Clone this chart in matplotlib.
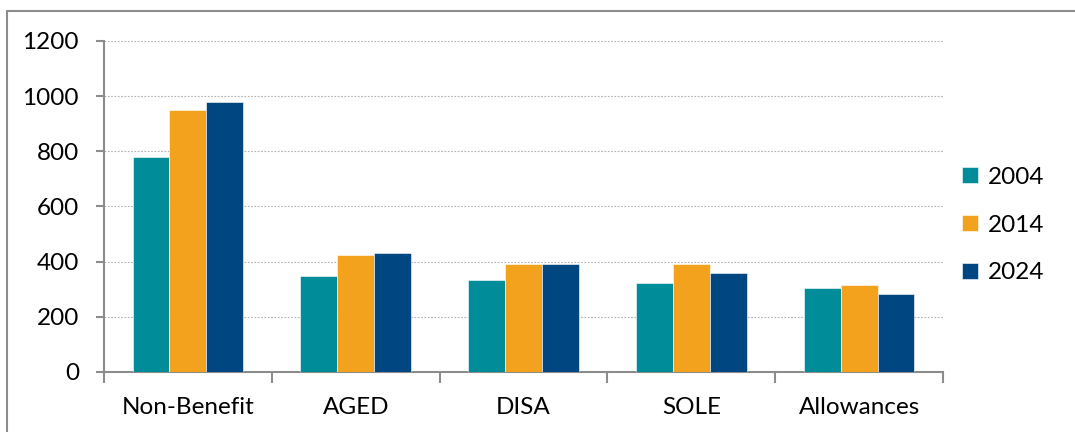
import numpy as np
import matplotlib
matplotlib.use("Agg")
import matplotlib.pyplot as plt
from matplotlib.patches import Rectangle

# Data
categories = ['Non-Benefit', 'AGED', 'DISA', 'SOLE', 'Allowances']
years = ['2004', '2014', '2024']
vals_2004 = [780, 349, 333, 324, 303]
vals_2014 = [951, 425, 393, 393, 317]
vals_2024 = [980, 430, 391, 360, 284]
colors = ['#008C99', '#F3A21E', '#004680']

plt.rcParams['font.family'] = ['Lato', 'DejaVu Sans']

fig = plt.figure(figsize=(10.75, 4.32), dpi=100)
ax = fig.add_axes([104/1075, 1 - 372/432, (943 - 104)/1075, (372 - 41)/432])

# outer frame of the chart
fig.patches.append(Rectangle((7/1075, -0.1), 1.2, 1 - 11/432 + 0.1,
                             transform=fig.transFigure, fill=False,
                             edgecolor='#8c8c8c', linewidth=1.5))

x = np.arange(len(categories))
w = 0.22
series = [vals_2004, vals_2014, vals_2024]
for i, (vals, yr) in enumerate(zip(series, years)):
    ax.bar(x + (i - 1) * w, vals, width=w, color=colors[i], label=yr,
           edgecolor='white', linewidth=0.4, zorder=3)

ax.set_xlim(-0.5, len(categories) - 0.5)
ax.set_ylim(0, 1200)
ax.set_yticks(range(0, 1201, 200))
ax.yaxis.grid(True, linestyle=(0, (1.5, 1.5)), color='#b0b0b0', linewidth=0.8, zorder=0)

# category labels centered, tick marks between groups
ax.set_xticks(x)
ax.set_xticklabels(categories)
ax.tick_params(axis='x', which='major', length=0, pad=18, labelsize=17.5)
ax.set_xticks(np.arange(-0.5, len(categories)), minor=True)
ax.tick_params(axis='x', which='minor', length=8, width=1.5, color='#8c8c8c', direction='out')
ax.tick_params(axis='y', length=6, width=1.5, color='#8c8c8c', labelsize=17.5, pad=12)

for s in ['top', 'right']:
    ax.spines[s].set_visible(False)
for s in ['left', 'bottom']:
    ax.spines[s].set_color('#8c8c8c')
    ax.spines[s].set_linewidth(1.5)

ax.legend(loc='center left', bbox_to_anchor=(1.0, 0.444), frameon=False,
          fontsize=17.5, handlelength=0.65, handleheight=0.65, labelspacing=1.1,
          handletextpad=0.4, borderaxespad=0.4)

fig.savefig('out.png', dpi=100)
